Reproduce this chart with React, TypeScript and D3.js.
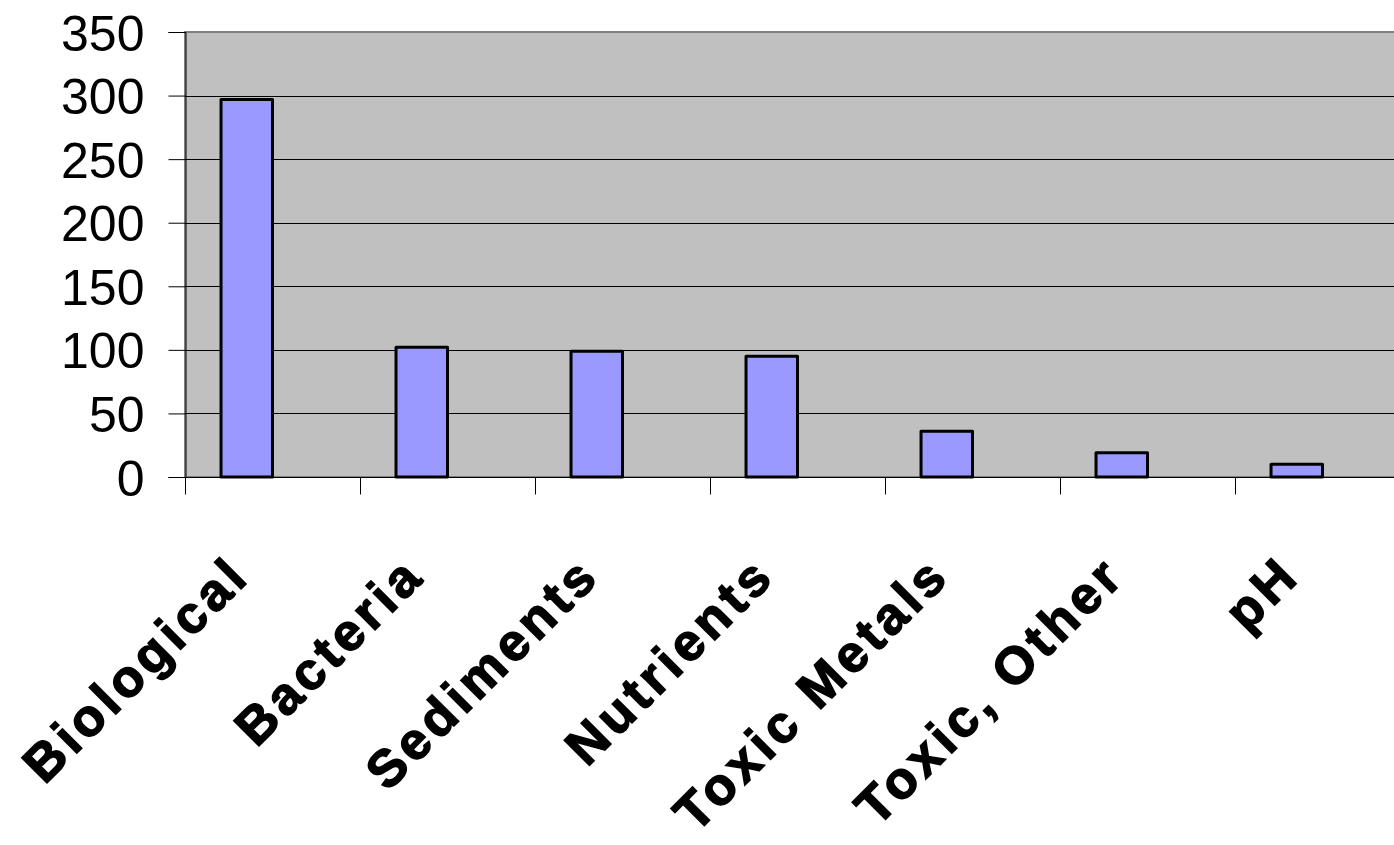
import * as d3 from "d3";
import { useEffect, useRef } from "react";

const CATEGORIES = [
  "Biological",
  "Bacteria",
  "Sediments",
  "Nutrients",
  "Toxic Metals",
  "Toxic, Other",
  "pH",
];
const VALUES = [297, 102, 99, 95, 36, 19, 10];
const Y_TICKS = [0, 50, 100, 150, 200, 250, 300, 350];

const WIDTH = 1394;
const HEIGHT = 845;

export default function App() {
  const svgRef = useRef<SVGSVGElement | null>(null);

  useEffect(() => {
    const margin = { top: 32, left: 185 };
    const bandStep = 175;
    const plotBottom = 477;
    const plotRight = margin.left + bandStep * CATEGORIES.length;

    const x = d3
      .scaleBand<string>()
      .domain(CATEGORIES)
      .range([margin.left, plotRight])
      .padding(0);

    // the second slot is an empty series, as in the original workbook
    const xSub = d3
      .scaleBand<string>()
      .domain(["value", "empty"])
      .range([0, x.bandwidth()])
      .paddingInner(0)
      .paddingOuter(0.7);

    const y = d3
      .scaleLinear()
      .domain([0, 350])
      .range([plotBottom, margin.top]);

    const svg = d3.select(svgRef.current);
    svg.selectAll("*").remove();
    svg.attr("width", WIDTH).attr("height", HEIGHT);

    // plot background
    svg
      .append("rect")
      .attr("x", margin.left)
      .attr("y", margin.top)
      .attr("width", plotRight - margin.left)
      .attr("height", plotBottom - margin.top)
      .attr("fill", "#c0c0c0")
      .attr("stroke", "#808080")
      .attr("stroke-width", 2);

    // gridlines
    svg
      .append("g")
      .selectAll("line")
      .data(Y_TICKS.filter(t => t > 0 && t < 350))
      .enter()
      .append("line")
      .attr("x1", margin.left)
      .attr("x2", plotRight)
      .attr("y1", d => Math.round(y(d)) + 0.5)
      .attr("y2", d => Math.round(y(d)) + 0.5)
      .attr("stroke", "#000")
      .attr("stroke-width", 1);

    // bars
    svg
      .append("g")
      .selectAll("rect")
      .data(CATEGORIES.map((c, i) => ({ c, v: VALUES[i] })))
      .enter()
      .append("rect")
      .attr("x", d => x(d.c)! + xSub("value")!)
      .attr("y", d => y(d.v))
      .attr("width", xSub.bandwidth())
      .attr("height", d => y(0) - y(d.v))
      .attr("fill", "#9999ff")
      .attr("stroke", "#000")
      .attr("stroke-width", 3)
      .attr("stroke-linejoin", "round");

    // Y Axis
    const yAxis = svg
      .append("g")
      .attr("transform", `translate(${margin.left + 0.5},0)`)
      .call(
        d3.axisLeft(y)
          .tickValues(Y_TICKS)
          .tickSize(17)
          .tickPadding(24)
          .tickFormat(d => String(d))
      );
    yAxis.select(".domain").attr("stroke", "#000").attr("stroke-width", 1);
    yAxis.selectAll(".tick line").attr("stroke", "#000");
    yAxis
      .selectAll(".tick text")
      .attr("fill", "#000")
      .attr("font-family", "'Liberation Sans', Arial, sans-serif")
      .attr("font-size", 50)
      .attr("dy", "0.36em");

    // X Axis
    const xAxis = svg
      .append("g")
      .attr("transform", `translate(0,${plotBottom + 0.5})`);
    xAxis
      .append("line")
      .attr("x1", margin.left)
      .attr("x2", plotRight)
      .attr("stroke", "#000");
    xAxis
      .selectAll("line.tick")
      .data(CATEGORIES)
      .enter()
      .append("line")
      .attr("class", "tick")
      .attr("x1", d => Math.round(x(d)!) + 0.5)
      .attr("x2", d => Math.round(x(d)!) + 0.5)
      .attr("y1", 0)
      .attr("y2", 17)
      .attr("stroke", "#000");

    const spacing = 4.5;
    svg
      .append("g")
      .selectAll("text")
      .data(CATEGORIES)
      .enter()
      .append("text")
      .attr("transform", d => {
        const px = x(d)! + x.bandwidth() / 2 - 25 + spacing;
        return `translate(${px},578) rotate(-45)`;
      })
      .attr("text-anchor", "end")
      .attr("font-family", "'Liberation Sans', Arial, sans-serif")
      .attr("font-weight", "bold")
      .attr("font-size", 52)
      .attr("letter-spacing", spacing)
      .attr("stroke", "#000")
      .attr("stroke-width", 1.5)
      .attr("fill", "#000")
      .text(d => d);
  }, []);

  return (
    <div style={{ position: "absolute", left: 0, top: 0, width: WIDTH, height: HEIGHT, overflow: "hidden", background: "#fff" }}>
      <svg ref={svgRef} style={{ display: "block" }} />
    </div>
  );
}
